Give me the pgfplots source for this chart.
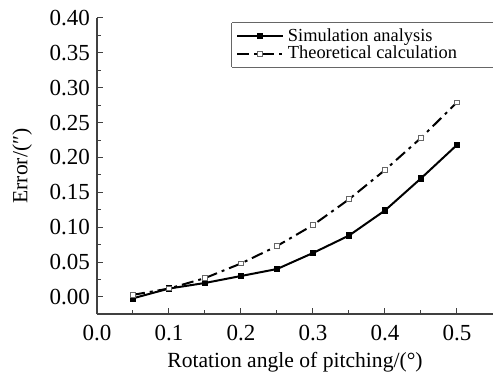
\documentclass[border=0pt]{standalone}
\usepackage{fontspec}
\setmainfont{Liberation Serif}
\usepackage{pgfplots}
\pgfplotsset{compat=1.18}
\begin{document}
\begin{tikzpicture}
\begin{axis}[
  scale only axis,
  width=198pt, height=148pt,
  xmin=0, xmax=0.55, ymin=-0.0245, ymax=0.40,
  axis lines=left,
  axis line style={-, black!75, line width=0.6pt},
  xtick={0,0.1,0.2,0.3,0.4,0.5},
  ytick={0,0.05,0.1,0.15,0.2,0.25,0.3,0.35,0.4},
  minor x tick num=1, minor y tick num=1,
  tick align=inside,
  major tick length=3pt, minor tick length=2pt,
  tick style={black!75, line width=0.5pt},
  /pgf/number format/assume math mode=true,
  ticklabel style={font=\fontsize{11.5}{12}\selectfont},
  xticklabel style={yshift=-2pt, /pgf/number format/.cd, fixed, fixed zerofill, precision=1},
  yticklabel style={/pgf/number format/.cd, fixed, fixed zerofill, precision=2},
  label style={font=\fontsize{10.8}{11}\selectfont},
  xlabel={Rotation angle of pitching/(°)},
  ylabel={Error/(″)},
  xlabel style={yshift=1pt},
  ylabel style={yshift=2pt},
  legend style={name=leg, at={(axis cs:0.1875,0.393)}, anchor=north west, draw=none,
    font=\fontsize{9.2}{9.5}\selectfont, inner xsep=2pt, inner ysep=0.5pt, row sep=-3pt,
    cells={anchor=west}},
  legend image code/.code={\draw[mark repeat=2,mark phase=2] plot coordinates {(0cm,0cm) (0.4cm,0cm) (0.8cm,0cm)};},
  clip=false,
]
\addplot[black, line width=1pt, mark=square*, mark size=1.15pt, mark options={solid, fill=black}]
coordinates {(0.05,-0.002) (0.1,0.012) (0.15,0.020) (0.2,0.030) (0.25,0.040) (0.3,0.063) (0.35,0.088) (0.4,0.124) (0.45,0.170) (0.5,0.218)};
\addlegendentry{Simulation analysis}
\addplot[black, line width=1pt, dash pattern=on 6pt off 2.5pt on 1.5pt off 2.5pt, mark=square*, mark size=1.15pt, mark options={solid, fill=white, draw=black!60, line width=0.5pt}]
coordinates {(0.05,0.003) (0.1,0.012) (0.15,0.027) (0.2,0.048) (0.25,0.073) (0.3,0.103) (0.35,0.140) (0.4,0.182) (0.45,0.228) (0.5,0.279)};
\addlegendentry{Theoretical calculation}
\end{axis}
\draw[black!60, line width=0.5pt] (leg.north west) -- ([xshift=160pt]leg.north east);
\draw[black!60, line width=0.5pt] (leg.south west) -- ([xshift=160pt]leg.south east);
\draw[black!60, line width=0.5pt] (leg.south west) -- (leg.north west);
\pgfresetboundingbox
\path (current axis.south west) ++(-48.5pt,-31pt) rectangle ++(246.5pt,188pt);
\end{tikzpicture}
\end{document}
